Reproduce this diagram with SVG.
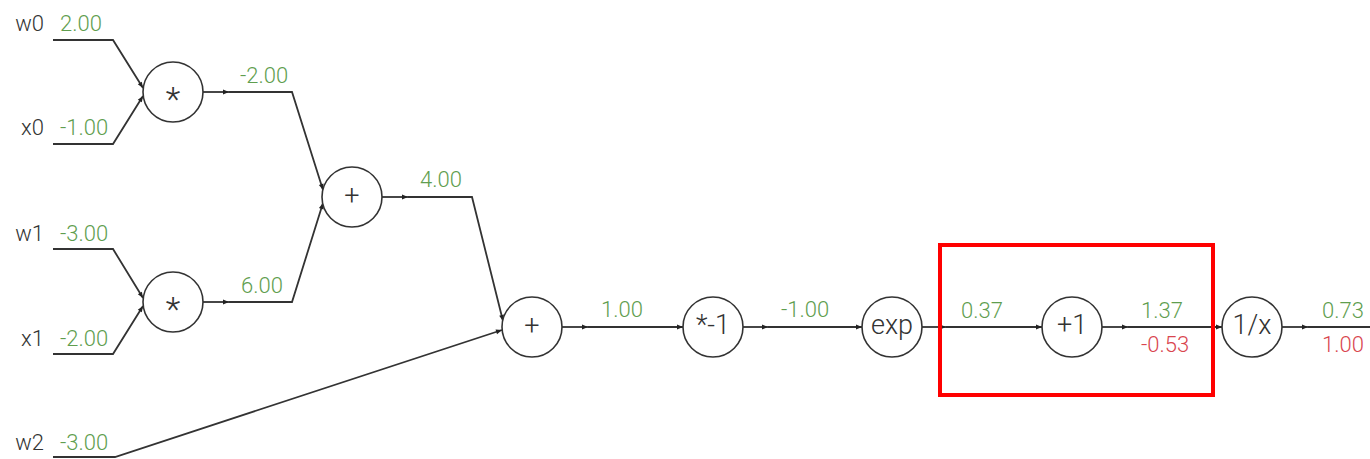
<svg xmlns="http://www.w3.org/2000/svg" width="1370" height="459" viewBox="0 0 1370 459">
<style>
text{font-family:Roboto,"Liberation Sans",sans-serif;font-weight:300}
.lbl{font-size:22px;fill:#333}
.v{font-size:22px;fill:#5f9e4f;text-anchor:middle}
.g{font-size:22px;fill:#d9464f;text-anchor:middle}
.vs{font-size:22px;fill:#5f9e4f}
.n circle{fill:#fff;stroke:#333;stroke-width:1.6}
.n text{font-size:27px;fill:#333;text-anchor:middle;dominant-baseline:central}
.n text.st{font-size:34px}
#edges path{fill:none;stroke:#333;stroke-width:1.8;marker-end:url(#ah)}
</style>
<defs>
<marker id="ah" viewBox="0 0 10 10" refX="10" refY="5" markerWidth="8" markerHeight="6" markerUnits="userSpaceOnUse" orient="auto">
<path d="M0,1 L10,5 L0,9 Z" fill="#222"/>
</marker>
</defs>
<rect width="1370" height="459" fill="#fff"/>
<g id="edges">
<path d="M53,40 H113 L143,88"/>
<path d="M53,144 H113 L143,96"/>
<path d="M203,92 H229"/>
<path d="M229,92 H292 L323,190"/>
<path d="M53,249 H113 L143,298"/>
<path d="M53,354 H113 L143,306"/>
<path d="M203,302 H229"/>
<path d="M229,302 H292 L323,203"/>
<path d="M382,197 H408"/>
<path d="M408,197 H472 L503,321"/>
<path d="M53,457 H115 L502,330"/>
<path d="M562,327 H588"/>
<path d="M588,327 H683"/>
<path d="M743,327 H768"/>
<path d="M768,327 H862"/>
<path d="M922,327 H946"/>
<path d="M946,327 H1042"/>
<path d="M1102,327 H1128"/>
<path d="M1128,327 H1222"/>
<path d="M1282,327 H1308"/>
<path d="M1308,327 H1370" style="marker-end:none"/>
</g>
<g id="inputs">
<text class="lbl" x="44" y="31" text-anchor="end">w0</text>
<text class="vs" x="60" y="31">2.00</text>
<text class="lbl" x="44" y="135" text-anchor="end">x0</text>
<text class="vs" x="60" y="135">-1.00</text>
<text class="lbl" x="44" y="241" text-anchor="end">w1</text>
<text class="vs" x="60" y="241">-3.00</text>
<text class="lbl" x="44" y="346" text-anchor="end">x1</text>
<text class="vs" x="60" y="346">-2.00</text>
<text class="lbl" x="44" y="450" text-anchor="end">w2</text>
<text class="vs" x="60" y="450">-3.00</text>
</g>
<g id="values">
<text class="v" x="264" y="83">-2.00</text>
<text class="v" x="262" y="293">6.00</text>
<text class="v" x="441" y="187">4.00</text>
<text class="v" x="622" y="317">1.00</text>
<text class="v" x="805" y="317">-1.00</text>
<text class="v" x="982" y="318">0.37</text>
<text class="v" x="1162" y="318">1.37</text>
<text class="g" x="1165" y="352">-0.53</text>
<text class="v" x="1343" y="318">0.73</text>
<text class="g" x="1343" y="352">1.00</text>
</g>
<g id="n1" class="n"><circle cx="173" cy="92" r="30"/><text class="st" x="173" y="99">*</text></g>
<g id="n2" class="n"><circle cx="173" cy="302" r="30"/><text class="st" x="173" y="309">*</text></g>
<g id="n3" class="n"><circle cx="352" cy="197" r="30"/><text x="352" y="196">+</text></g>
<g id="n4" class="n"><circle cx="532" cy="327" r="30"/><text x="532" y="326">+</text></g>
<g id="n5" class="n"><circle cx="713" cy="327" r="30"/><text x="713" y="325">*-1</text></g>
<g id="n6" class="n"><circle cx="892" cy="327" r="30"/><text x="892" y="325">exp</text></g>
<g id="n7" class="n"><circle cx="1072" cy="327" r="30"/><text x="1072" y="325">+1</text></g>
<g id="n8" class="n"><circle cx="1252" cy="327" r="30"/><text x="1252" y="325">1/x</text></g>
<rect id="highlight" x="940" y="245" width="273" height="150" fill="none" stroke="#f00" stroke-width="4"/>
</svg>
